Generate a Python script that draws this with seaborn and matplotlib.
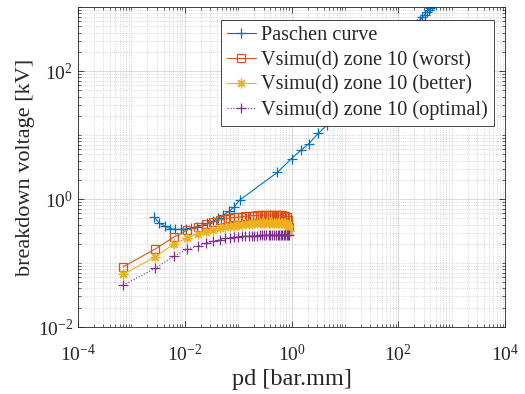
import numpy as np
import pandas as pd
import matplotlib
matplotlib.use("Agg")
import matplotlib.pyplot as plt
import seaborn as sns
from matplotlib.ticker import LogLocator, LogFormatterMathtext, NullFormatter

# Paschen curve
paschen_pd = [0.00266, 0.00335, 0.0042, 0.0053, 0.0067, 0.0084, 0.0106, 0.0133, 0.0168,
              0.0211, 0.0266, 0.0335, 0.0422, 0.053, 0.067, 0.084, 0.106,
              0.54, 1.0, 1.51, 2.1, 3.2, 4.7, 10, 40, 70, 100, 130, 160, 190, 220,
              250, 280, 310, 340, 370, 400, 430, 460]
paschen_v = [0.52, 0.42, 0.38, 0.345, 0.335, 0.335, 0.34, 0.355, 0.37,
             0.39, 0.42, 0.45, 0.50, 0.56, 0.64, 0.75, 0.96,
             2.6, 4.3, 5.8, 7.3, 10.7, 14.5, 29, 110, 190, 265, 340, 410, 480, 550,
             620, 690, 760, 830, 900, 970, 1040, 1110]

# simulated pd grid
sim_pd = [0.0007, 0.0028, 0.0063, 0.0112, 0.0175, 0.0252, 0.0343, 0.0448, 0.0567, 0.07,
          0.0847, 0.1008, 0.1183, 0.1372, 0.1575, 0.1792, 0.2023, 0.2268, 0.2527, 0.28,
          0.3087, 0.3388, 0.3703, 0.4032, 0.4375, 0.4732, 0.5103, 0.5488, 0.5887, 0.63,
          0.6727, 0.7168, 0.7623, 0.8092, 0.8575, 0.9072]

v_worst = [0.087, 0.166, 0.255, 0.33, 0.365, 0.41, 0.44, 0.47, 0.49, 0.505,
           0.515, 0.52, 0.53, 0.54, 0.545, 0.55, 0.553, 0.556, 0.558, 0.56,
           0.562, 0.563, 0.564, 0.565, 0.565, 0.565, 0.564, 0.563, 0.561, 0.558,
           0.554, 0.548, 0.54, 0.52, 0.47, 0.37]
v_better = [0.067, 0.124, 0.20, 0.245, 0.285, 0.305, 0.33, 0.35, 0.365, 0.375,
            0.385, 0.39, 0.397, 0.403, 0.408, 0.412, 0.416, 0.419, 0.422, 0.424,
            0.426, 0.428, 0.429, 0.43, 0.43, 0.43, 0.43, 0.429, 0.428, 0.426,
            0.423, 0.42, 0.415, 0.405, 0.38, 0.32]
v_optimal = [0.045, 0.083, 0.128, 0.166, 0.185, 0.205, 0.22, 0.233, 0.242, 0.249,
             0.254, 0.258, 0.261, 0.263, 0.265, 0.267, 0.268, 0.269, 0.27, 0.271,
             0.272, 0.272, 0.273, 0.273, 0.274, 0.274, 0.274, 0.275, 0.275, 0.275,
             0.275, 0.275, 0.275, 0.275, 0.275, 0.274]

sns.set_style("ticks")
plt.rcParams['font.family'] = 'serif'
plt.rcParams['font.serif'] = ['Liberation Serif', 'DejaVu Serif']
plt.rcParams['mathtext.fontset'] = 'custom'
plt.rcParams['mathtext.rm'] = 'Liberation Serif'
plt.rcParams['mathtext.it'] = 'Liberation Serif:italic'
plt.rcParams['font.size'] = 14

fig = plt.figure(figsize=(5.25, 3.94), dpi=100)
ax = fig.add_axes([0.1486, 0.170, 0.8134, 0.812])

blue, orange, yellow, purple = '#0072BD', '#D95319', '#EDB120', '#7E2F8E'

sns.lineplot(x=paschen_pd, y=paschen_v, ax=ax, color=blue, marker='+', markersize=7,
             markeredgecolor=blue, markeredgewidth=0.9, linewidth=0.8, sort=False,
             estimator=None, label='Paschen curve')
sns.lineplot(x=sim_pd, y=v_worst, ax=ax, color=orange, marker='s', markersize=5.5,
             markerfacecolor='none', markeredgecolor=orange, markeredgewidth=0.9,
             linewidth=0.8, sort=False, estimator=None, label='Vsimu(d) zone 10 (worst)')
sns.lineplot(x=sim_pd, y=v_better, ax=ax, color=yellow, marker=(8, 2, 0), markersize=7,
             markeredgecolor=yellow, markeredgewidth=0.9,
             linewidth=0.8, sort=False, estimator=None, label='Vsimu(d) zone 10 (better)')
sns.lineplot(x=sim_pd, y=v_optimal, ax=ax, color=purple, marker='+', markersize=7,
             markeredgecolor=purple, markeredgewidth=0.9, linestyle=':', linewidth=0.8,
             sort=False, estimator=None, label='Vsimu(d) zone 10 (optimal)')

ax.set_xscale('log')
ax.set_yscale('log')
ax.set_xlim(1e-4, 1e4)
ax.set_ylim(1e-2, 1e3)
ax.set_xticks([1e-4, 1e-2, 1e0, 1e2, 1e4])
ax.set_yticks([1e-2, 1e0, 1e2])
ax.xaxis.set_major_formatter(LogFormatterMathtext())
ax.yaxis.set_major_formatter(LogFormatterMathtext())
for axis in (ax.xaxis, ax.yaxis):
    axis.set_minor_locator(LogLocator(base=10, subs=np.arange(1, 10), numticks=100))
    axis.set_minor_formatter(NullFormatter())

ax.grid(True, which='major', color='#dcdcdc', linewidth=0.8, linestyle='-')
ax.grid(True, which='minor', color='#c8c8c8', linewidth=0.6, linestyle=':')
ax.set_axisbelow(True)
ax.tick_params(which='both', direction='in', top=True, right=True, colors='#262626',
               labelcolor='#262626')
ax.tick_params(which='major', length=4, width=0.6)
ax.tick_params(which='minor', length=2, width=0.5)
ax.tick_params(axis='x', which='major', pad=12)
for s in ax.spines.values():
    s.set_color('#262626')
    s.set_linewidth(0.6)

ax.set_xlabel('pd [bar.mm]', color='#262626', fontsize=17.5, labelpad=3)
ax.set_ylabel('breakdown voltage [kV]', color='#262626', fontsize=16, labelpad=2)

leg = ax.legend(loc='upper right', bbox_to_anchor=(0.974, 0.959), fontsize=14.6,
                frameon=True, fancybox=False, edgecolor='#262626', framealpha=1,
                handlelength=1.45, handletextpad=0.25, borderpad=0.3, labelspacing=0.27,
                borderaxespad=0)
leg.get_frame().set_linewidth(0.6)

fig.savefig('out.png', dpi=100)
